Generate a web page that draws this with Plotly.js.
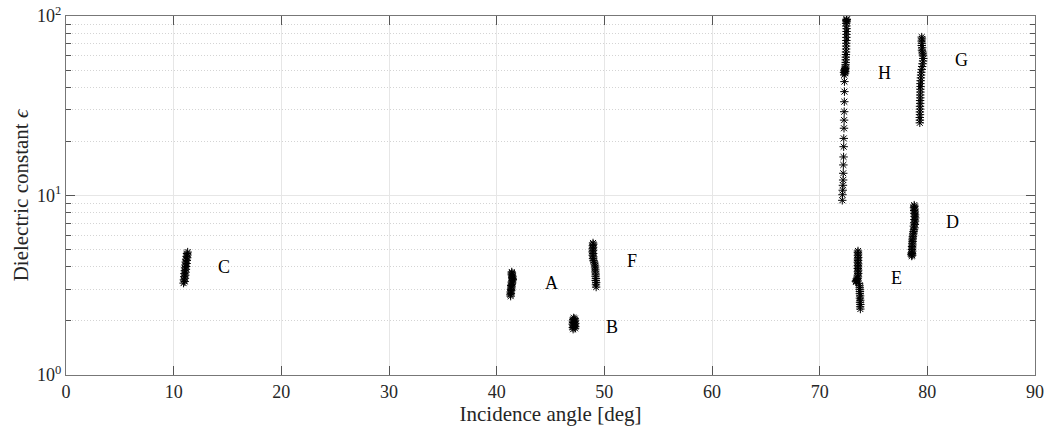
<!DOCTYPE html>
<html>
<head>
<meta charset="utf-8">
<script src="https://cdn.plot.ly/plotly-3.0.1.min.js"></script>
<style>html,body{margin:0;padding:0;background:#fff;}#chart{width:1050px;height:436px;}</style>
</head>
<body>
<div id="chart"></div>
<script>
// Cluster A
const xA = [41.30,41.28,41.32,41.30,41.35,41.33,41.36,41.38,41.35,41.40,41.43,41.41,41.46,41.50,41.47,41.44,41.46,41.42,41.40,41.42,41.40];
const yA = [2.75,2.80,2.85,2.90,2.95,3.00,3.05,3.10,3.15,3.20,3.25,3.30,3.35,3.40,3.45,3.50,3.55,3.60,3.65,3.70,3.75];
// Cluster B
const xB = [47.10,47.28,47.08,47.30,47.12,47.27,47.06,47.30,47.10,47.26,47.08,47.28,47.12,47.25,47.15];
const yB = [1.80,1.82,1.84,1.86,1.88,1.90,1.92,1.94,1.96,1.98,2.00,2.02,2.04,2.06,2.08];
// Cluster C
const xC = [10.92,11.02,10.95,11.05,10.98,11.08,11.00,11.10,11.04,11.14,11.06,11.16,11.10,11.20,11.12,11.22,11.16,11.26,11.20,11.28,11.24,11.30];
const yC = [3.25,3.32,3.39,3.46,3.53,3.60,3.67,3.74,3.81,3.88,3.95,4.02,4.10,4.18,4.26,4.34,4.42,4.50,4.58,4.66,4.75,4.84];
// Cluster D
const xD = [78.55,78.60,78.52,78.58,78.55,78.60,78.57,78.60,78.58,78.62,78.60,78.63,78.62,78.65,78.66,78.68,78.70,78.72,78.76,78.80,78.74,78.84,78.78,78.86,78.80,78.88,78.82,78.86,78.80,78.84,78.78,78.82,78.76,78.80,78.78];
const yD = [4.60,4.65,4.70,4.75,4.80,4.90,5.00,5.10,5.20,5.30,5.42,5.54,5.66,5.78,5.90,6.03,6.16,6.30,6.45,6.60,6.75,6.90,7.05,7.20,7.35,7.50,7.65,7.80,7.95,8.10,8.25,8.40,8.55,8.70,8.84];
// Cluster E
const xE = [73.78,73.76,73.78,73.75,73.77,73.74,73.76,73.73,73.74,73.72,73.72,73.70,73.66,73.40,73.36,73.42,73.46,73.52,73.56,73.54,73.58,73.55,73.58,73.54,73.57,73.55,73.58,73.54,73.57,73.55,73.58,73.55,73.57,73.55,73.56];
const yE = [2.33,2.40,2.47,2.54,2.61,2.68,2.76,2.84,2.92,3.00,3.08,3.16,3.24,3.30,3.33,3.36,3.40,3.45,3.52,3.60,3.68,3.76,3.84,3.92,4.00,4.08,4.16,4.25,4.34,4.43,4.52,4.62,4.72,4.82,4.91];
// Cluster F
const xF = [49.24,49.22,49.24,49.20,49.22,49.18,49.20,49.16,49.17,49.14,49.14,49.10,49.06,49.00,48.95,48.98,48.92,48.96,48.90,48.95,48.92,48.96,48.93,48.97,48.95];
const yF = [3.09,3.18,3.27,3.36,3.45,3.55,3.65,3.75,3.85,3.95,4.05,4.15,4.25,4.35,4.45,4.55,4.65,4.75,4.85,4.95,5.05,5.15,5.25,5.35,5.44];
// Cluster G
const xG = [79.30,79.31,79.30,79.32,79.31,79.33,79.32,79.34,79.33,79.35,79.34,79.36,79.35,79.37,79.36,79.38,79.40,79.42,79.44,79.48,79.52,79.56,79.60,79.62,79.60,79.58,79.55,79.50,79.52,79.48,79.50,79.47,79.50,79.48];
const yG = [25.4,26.3,27.2,28.2,29.2,30.3,31.4,32.6,33.8,35.0,36.3,37.7,39.1,40.5,42.0,43.6,45.2,46.9,48.6,50.4,52.3,54.2,56.2,58.0,60.0,61.5,63.0,64.5,66.5,68.5,70.5,72.5,74.5,76.3];
// Cluster H
const xH = [72.10,72.12,72.14,72.16,72.18,72.19,72.20,72.22,72.23,72.24,72.26,72.27,72.28,72.29,72.30,72.30,
            72.28,72.36,72.26,72.38,72.30,72.34,72.36,72.38,72.40,72.40,72.42,72.42,72.43,72.44,72.45,72.46,72.46,72.47,72.48,72.48,72.49,72.50,72.50,72.48,72.46,72.50,72.48,72.52,72.50];
const yH = [9.4,10.1,10.7,11.4,12.2,13.3,14.8,16.4,18.7,20.8,23.7,26.3,29.3,33.3,37.9,43.1,
            47.0,48.0,48.5,49.0,49.5,50.0,50.5,51.0,52.0,53.5,55.0,57.0,59.0,61.0,63.0,65.5,68.0,70.5,73.0,76.0,79.0,82.0,85.0,88.0,91.0,93.0,94.5,95.5,96.0];

// Labels
const labelText = ['A','B','C','D','E','F','G','H'];
const labelX = [45.1,50.7,14.7,82.3,77.1,52.6,83.2,76.0];
const labelY = [3.24,1.86,4.01,7.1,3.48,4.33,56.9,48.1];

// Axis ticks
const xTicks = [0,10,20,30,40,50,60,70,80,90];
const yTicks = [1,10,100];
const yTickText = ['10<sup>0</sup>','10<sup>1</sup>','10<sup>2</sup>'];
const yMinor = [2,3,4,5,6,7,8,9,20,30,40,50,60,70,80,90];

const clusters = [[xA,yA],[xB,yB],[xC,yC],[xD,yD],[xE,yE],[xF,yF],[xG,yG],[xH,yH]];
const font = '"Liberation Serif", "Times New Roman", Times, serif';

const traces = clusters.map(c => ({
  x: c[0], y: c[1], type: 'scatter', mode: 'markers', showlegend: false,
  marker: {symbol: 'asterisk-open', size: 7, color: '#000', line: {color: '#000', width: 1}},
  hoverinfo: 'x+y'
}));

const annotations = labelText.map((t, i) => ({
  x: labelX[i], y: Math.log10(labelY[i]), xref: 'x', yref: 'y', text: t, showarrow: false,
  font: {family: font, size: 18, color: '#000'}
}));

const layout = {
  width: 1050, height: 436,
  margin: {l: 66, r: 15, t: 16, b: 61},
  paper_bgcolor: '#fff', plot_bgcolor: '#fff',
  font: {family: font, size: 18, color: '#262626'},
  showlegend: false,
  annotations: annotations,
  xaxis: {
    range: [0, 90], tickvals: xTicks, ticks: 'inside', ticklen: 9, tickcolor: '#555',
    showline: true, linecolor: '#777', linewidth: 1, mirror: 'ticks',
    showgrid: true, gridcolor: '#e6e6e6', gridwidth: 1, zeroline: false,
    tickfont: {family: font, size: 18, color: '#262626'},
    title: {text: 'Incidence angle [deg]', font: {family: font, size: 21, color: '#262626'}, standoff: 5}
  },
  yaxis: {
    type: 'log', range: [0, 2], tickvals: yTicks, ticktext: yTickText,
    ticks: 'inside', ticklen: 9, tickcolor: '#555',
    showline: true, linecolor: '#777', linewidth: 1, mirror: 'ticks',
    showgrid: true, gridcolor: '#e6e6e6', gridwidth: 1, zeroline: false,
    tickfont: {family: font, size: 18, color: '#262626'},
    minor: {tickvals: yMinor, ticks: 'inside', ticklen: 5, tickcolor: '#555', showgrid: true, gridcolor: '#d4d4d4', griddash: '1px,2px', gridwidth: 1},
    title: {text: 'Dielectric constant <i>ϵ</i>', font: {family: font, size: 21, color: '#262626'}, standoff: 2}
  }
};

Plotly.newPlot('chart', traces, layout, {staticPlot: true, displayModeBar: false});
</script>
</body>
</html>
